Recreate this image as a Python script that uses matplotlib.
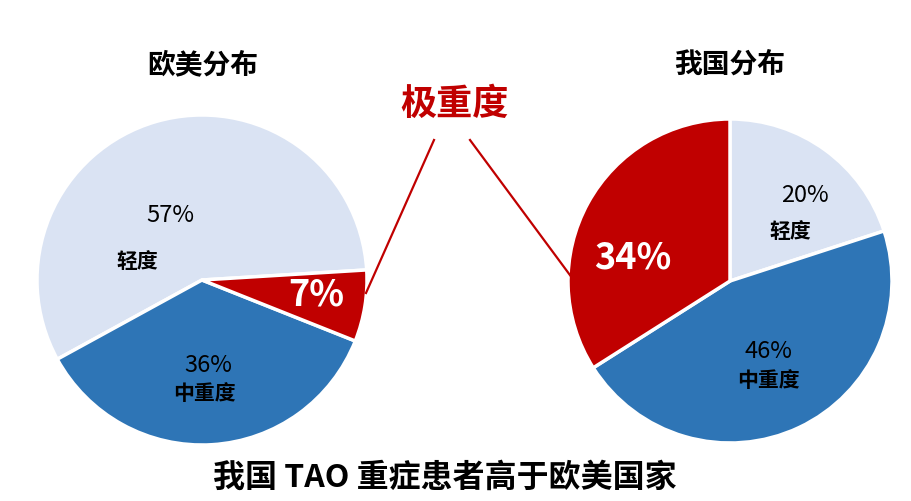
import matplotlib
matplotlib.use("Agg")
import matplotlib.pyplot as plt

plt.rcParams["font.family"] = ["Noto Sans CJK SC", "DejaVu Sans"]

# data
categories = ["轻度", "中重度", "极重度"]
west_values = [57, 36, 7]
china_values = [20, 46, 34]
colours = ["#DAE3F3", "#2E75B6", "#C00000"]

W, H = 911, 502
fig = plt.figure(figsize=(W / 100, H / 100), dpi=100)
ax = fig.add_axes([0, 0, 1, 1])


def py(y):
    # image pixel row -> data y
    return H - y


left_c = (202, py(281))
right_c = (730, py(282))

ax.pie(west_values, colors=colours, center=left_c, radius=165,
       startangle=3.5, counterclock=True,
       wedgeprops=dict(edgecolor="white", linewidth=2.5))
ax.pie(china_values, colors=colours, center=right_c, radius=162,
       startangle=90, counterclock=False,
       wedgeprops=dict(edgecolor="white", linewidth=2.5))

ax.set_xlim(0, W)
ax.set_ylim(0, H)
ax.set_aspect("equal")
ax.axis("off")

# label offsets from pie centre (percent text, category text)
left_pos = [((-32, 65), (-65, 19)), ((6, -84), (2, -113)), ((114, -14), None)]
right_pos = [((75, 87), (60, 50)), ((38, -69), (38, -99)), ((-97, 24), None)]

for (cx, cy), vals, pos in [(left_c, west_values, left_pos),
                            (right_c, china_values, right_pos)]:
    for i, (pct_off, cat_off) in enumerate(pos):
        if cat_off is None:
            ax.text(cx + pct_off[0], cy + pct_off[1], f"{vals[i]}%",
                    ha="center", va="center", fontsize=26,
                    fontweight="bold", color="white")
        else:
            ax.text(cx + pct_off[0], cy + pct_off[1], f"{vals[i]}%",
                    ha="center", va="center", fontsize=17, color="black")
            ax.text(cx + cat_off[0], cy + cat_off[1], categories[i],
                    ha="center", va="center", fontsize=15,
                    fontweight="bold", color="black")

# titles
ax.text(203, py(65), "欧美分布", ha="center", va="center",
        fontsize=20, fontweight="bold")
ax.text(730, py(65), "我国分布", ha="center", va="center",
        fontsize=20, fontweight="bold")
ax.text(455, py(104), categories[2], ha="center", va="center",
        fontsize=26, fontweight="bold", color="#C00000")

# connector lines
ax.plot([434, 366], [py(141), py(294)], color="#C00000", linewidth=1.6)
ax.plot([470, 581], [py(141), py(291)], color="#C00000", linewidth=1.6)

ax.text(445, py(478), "我国 TAO 重症患者高于欧美国家", ha="center",
        va="center", fontsize=23, fontweight="bold")

fig.savefig("out.png", dpi=100)
